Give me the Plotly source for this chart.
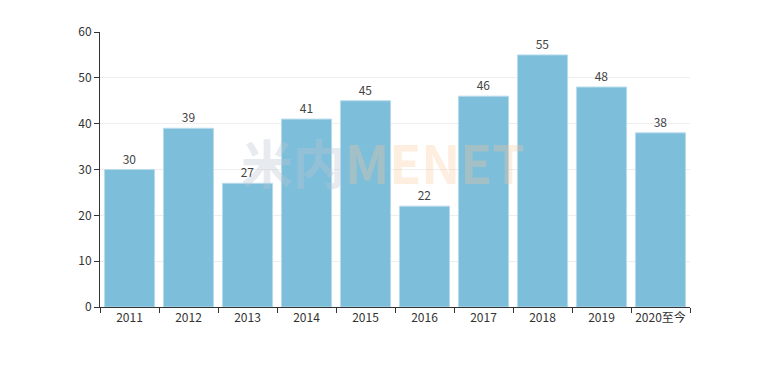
import plotly.graph_objects as go

categories = ["2011", "2012", "2013", "2014", "2015", "2016", "2017", "2018", "2019", "2020至今"]
values = [30, 39, 27, 41, 45, 22, 46, 55, 48, 38]
y_ticks = [0, 10, 20, 30, 40, 50, 60]

font_family = "Noto Sans CJK SC, Noto Sans, sans-serif"

fig = go.Figure(go.Bar(
    x=categories,
    y=values,
    text=values,
    textposition="outside",
    cliponaxis=False,
    textfont=dict(size=12, color="#444", family=font_family),
    marker=dict(color="#7dbedb", line=dict(color="#b9dcec", width=1)),
))

fig.add_annotation(
    xref="paper", yref="paper", x=0.48, y=0.53,
    text="<b><span style='color:rgba(185,198,210,0.35)'>米内</span><span style='color:rgba(250,200,150,0.3)'>MENET</span></b>",
    showarrow=False, font=dict(size=52, family="Noto Sans CJK SC, DejaVu Sans, sans-serif"),
)

fig.update_layout(
    width=751, height=360,
    margin=dict(l=92, r=69, t=24, b=61, autoexpand=False),
    paper_bgcolor="white", plot_bgcolor="white",
    bargap=0.15,
    showlegend=False,
    font=dict(family=font_family, size=12, color="#333"),
    xaxis=dict(
        showline=True, linecolor="#333", linewidth=1,
        ticks="outside", ticklen=5, tickcolor="#333", tickson="boundaries",
        showgrid=False, tickangle=0, automargin=False,
        tickfont=dict(size=12, color="#333"),
    ),
    yaxis=dict(
        range=[0, 60], tickvals=y_ticks,
        showline=True, linecolor="#333", linewidth=1,
        ticks="outside", ticklen=5, tickcolor="#333",
        showgrid=True, gridcolor="#eeeeee", zeroline=False, automargin=False,
        tickfont=dict(size=12, color="#333"),
    ),
)

fig.write_html("out.html")
